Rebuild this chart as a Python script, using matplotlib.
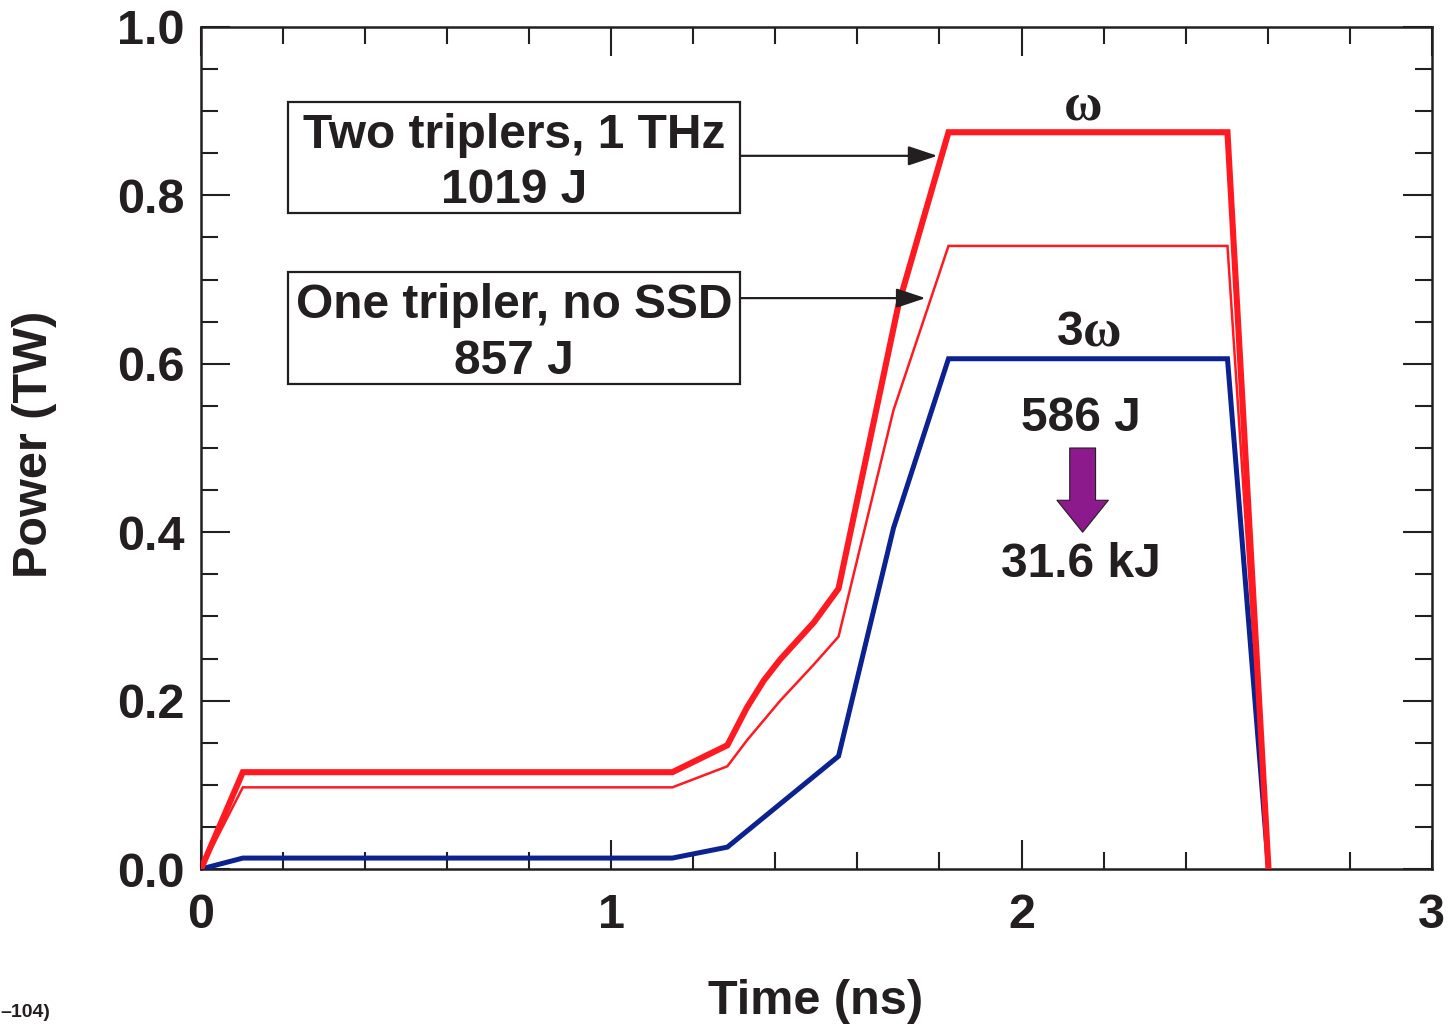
import matplotlib
matplotlib.use("Agg")
import matplotlib.pyplot as plt
from matplotlib.patches import Rectangle
from matplotlib.ticker import MultipleLocator, FormatStrFormatter

plt.rcParams['font.family'] = ['Liberation Sans', 'DejaVu Sans']
plt.rcParams['font.weight'] = 'bold'
plt.rcParams['axes.labelweight'] = 'bold'

INK = '#231f20'
RED = '#ff1a22'
BLUE = '#0c2290'
PURPLE = '#8c1a8c'
SERIF = ['Liberation Serif', 'DejaVu Serif']

# ---------------- DATA ----------------
# Two triplers, 1 THz (omega, thick red)
t_two = [0, 0.102, 1.149, 1.283, 1.331, 1.372, 1.412, 1.494, 1.554, 1.700, 1.822, 2.502, 2.602]
p_two = [0, 0.115, 0.115, 0.147, 0.192, 0.224, 0.249, 0.293, 0.333, 0.670, 0.875, 0.875, 0.0]

# One tripler, no SSD (omega, thin red)
t_one = [0, 0.102, 1.149, 1.283, 1.331, 1.412, 1.494, 1.554, 1.688, 1.822, 2.502, 2.602]
p_one = [0, 0.097, 0.097, 0.122, 0.153, 0.200, 0.243, 0.276, 0.545, 0.740, 0.740, 0.0]

# 3-omega output (blue)
t_3w = [0, 0.102, 1.149, 1.283, 1.554, 1.688, 1.822, 2.502, 2.602]
p_3w = [0, 0.013, 0.013, 0.026, 0.134, 0.405, 0.606, 0.606, 0.0]

x_ticks = [0, 1, 2, 3]
y_ticks = [0.0, 0.2, 0.4, 0.6, 0.8, 1.0]
# --------------------------------------

fig = plt.figure(figsize=(14.48, 10.26), dpi=100)
ax = fig.add_axes([0.1388, 0.153, 0.850, 0.8207])

ax.plot(t_two, p_two, color=RED, lw=4.4, solid_joinstyle='miter', zorder=4)
ax.plot(t_one, p_one, color=RED, lw=1.8, solid_joinstyle='miter', zorder=3)
ax.plot(t_3w, p_3w, color=BLUE, lw=3.6, solid_joinstyle='miter', zorder=3)

ax.set_xlim(0, 3)
ax.set_ylim(0, 1.0)
ax.set_xticks(x_ticks)
ax.set_yticks(y_ticks)
ax.xaxis.set_minor_locator(MultipleLocator(0.2))
ax.yaxis.set_minor_locator(MultipleLocator(0.05))
ax.xaxis.set_major_formatter(FormatStrFormatter('%d'))
ax.yaxis.set_major_formatter(FormatStrFormatter('%.1f'))

for s in ax.spines.values():
    s.set_linewidth(1.8)
    s.set_color(INK)
ax.tick_params(which='both', direction='in', top=True, right=True, color=INK,
               labelcolor=INK, labelsize=35, width=1.5)
ax.tick_params(which='major', length=21)
ax.tick_params(which='minor', length=12)
ax.tick_params(axis='x', pad=17)
ax.tick_params(axis='y', pad=12)

ax.set_xlabel('Time (ns)', fontsize=35, color=INK)
ax.set_ylabel('Power (TW)', fontsize=35, color=INK)
ax.xaxis.set_label_coords(0.499, -0.157)
ax.xaxis.label.set_va('center')
ax.yaxis.set_label_coords(-0.135, 0.504)
ax.yaxis.label.set_va('center')

# labelled boxes with pointer arrows
for (x0, x1, y0, y1, line1, line2, ytip, xtip) in [
        (0.212, 1.315, 0.779, 0.911, 'Two triplers, 1 THz', '1019 J', 0.847, 1.795),
        (0.212, 1.315, 0.576, 0.709, 'One tripler, no SSD', '857 J', 0.678, 1.766)]:
    ax.add_patch(Rectangle((x0, y0), x1 - x0, y1 - y0, fill=False, ec=INK, lw=1.6, zorder=5))
    xc = (x0 + x1) / 2
    ax.text(xc, y1 - 0.040, line1, ha='center', va='center', fontsize=34.5, color=INK, zorder=6)
    ax.text(xc, y0 + 0.027, line2, ha='center', va='center', fontsize=34.5, color=INK, zorder=6)
    ax.annotate('', xy=(xtip, ytip), xytext=(x1, ytip),
                arrowprops=dict(arrowstyle='-|>,head_length=0.9,head_width=0.3',
                                color=INK, lw=1.6, shrinkA=0, shrinkB=0,
                                mutation_scale=20), zorder=6)

ax.text(2.150, 0.905, '\u03c9', ha='center', va='center', fontsize=38,
        family=SERIF, color=INK)
ax.text(2.150, 0.622, '3', ha='right', va='baseline', fontsize=34.5, color=INK)
ax.text(2.150, 0.622, '\u03c9', ha='left', va='baseline', fontsize=38,
        family=SERIF, color=INK)
ax.text(2.145, 0.535, '586 J', ha='center', va='center', fontsize=34.5, color=INK)
ax.text(2.145, 0.362, '31.6 kJ', ha='center', va='center', fontsize=34.5, color=INK)
ax.annotate('', xy=(2.149, 0.400), xytext=(2.149, 0.500),
            arrowprops=dict(arrowstyle='simple,head_length=1.15,head_width=1.85,tail_width=0.93',
                            fc=PURPLE, ec=INK, lw=0.8, shrinkA=0, shrinkB=0,
                            mutation_scale=20))

fig.text(0.0, 0.013, '\u2013104)', ha='left', va='center', fontsize=14, color=INK)

fig.savefig('out.png', dpi=100)
